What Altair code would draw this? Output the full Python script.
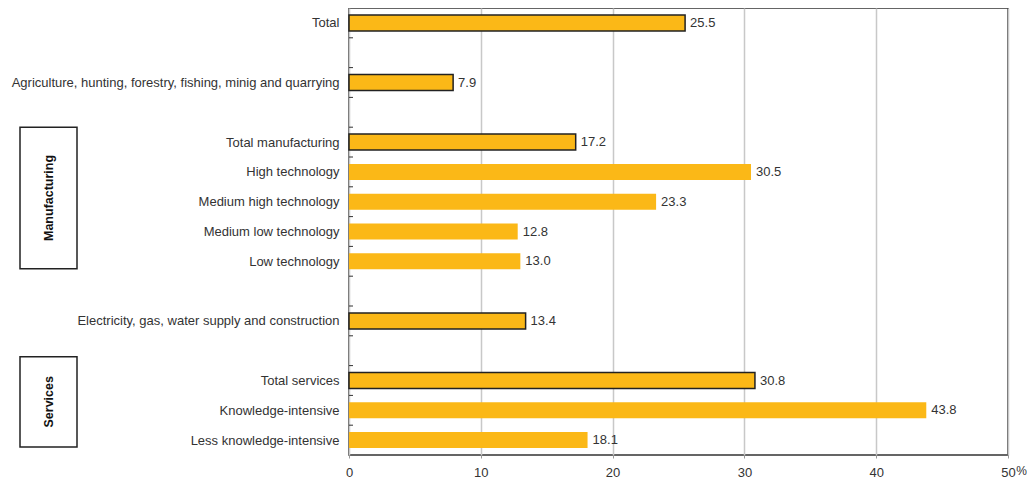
import json
import altair as alt
import pandas as pd

categories = [
    "Total",
    "",
    "Agriculture, hunting, forestry, fishing, minig and quarrying",
    "",
    "Total manufacturing",
    "High technology",
    "Medium high technology",
    "Medium low technology",
    "Low technology",
    "",
    "Electricity, gas, water supply and construction",
    "",
    "Total services",
    "Knowledge-intensive",
    "Less knowledge-intensive",
]
values = [25.5, None, 7.9, None, 17.2, 30.5, 23.3, 12.8, 13.0, None, 13.4, None, 30.8, 43.8, 18.1]
is_total = [True, False, True, False, True, False, False, False, False, False, True, False, True, False, False]

groups = ["Manufacturing", "Services"]
group_start = [3.5, 11.2]
group_end = [8.25, 14.23]

x_ticks = [0, 10, 20, 30, 40, 50]

FONT = "Liberation Sans"
TEXT = "#333333"
BAR = "#FBB817"

n = len(categories)
df = pd.DataFrame({
    "idx": list(range(n)),
    "cat": categories,
    "value": values,
    "total": is_total,
})
df = df[df["value"].notna()]

bounds = pd.DataFrame({"b": [i + 0.5 for i in range(n - 1)]})
gdf = pd.DataFrame({"group": groups, "start": group_start, "end": group_end})

yscale = alt.Scale(domain=[-0.5, n - 0.5], reverse=True, nice=False, zero=False, padding=0)
xscale = alt.Scale(domain=[0, 50], nice=False, padding=0)

label_expr = json.dumps(categories) + "[datum.value]"

yaxis = alt.Axis(values=list(range(n)), labelExpr=label_expr, title=None,
                 ticks=False, domain=False, grid=False, labelPadding=10, labelLimit=500,
                 labelFont=FONT, labelFontSize=13, labelColor=TEXT)
xaxis = alt.Axis(values=x_ticks, title="%", grid=True, gridColor="#c8c8c8",
                 gridWidth=1.5, domain=False, tickSize=3, tickColor="#999999",
                 labelPadding=8, labelFlush=False, labelFont=FONT, labelFontSize=13,
                 labelColor=TEXT, titleFont=FONT, titleFontSize=12,
                 titleFontWeight="normal", titleColor=TEXT, titleX=672, titleY=15,
                 titleAlign="center", titleBaseline="middle", titleAngle=0)


def Y(field):
    return alt.Y(field, scale=yscale, axis=yaxis)


def X(field):
    return alt.X(field, scale=xscale, axis=xaxis)


base = alt.Chart(df)

bars_plain = base.transform_filter("!datum.total").mark_bar(
    color=BAR, size=16, orient="horizontal"
).encode(
    x=X("value:Q"),
    y=Y("idx:Q"),
)

bars_total = base.transform_filter("datum.total").mark_bar(
    color=BAR, size=16, orient="horizontal", stroke="#222222", strokeWidth=1.5
).encode(
    x=X("value:Q"),
    y=Y("idx:Q"),
)

labels = base.mark_text(
    align="left", baseline="middle", dx=5, font=FONT, fontSize=13, color=TEXT
).encode(
    x=X("value:Q"),
    y=Y("idx:Q"),
    text=alt.Text("value:Q", format=".1f"),
)

ticks = alt.Chart(bounds).mark_rule(color="#333333", strokeWidth=1).encode(
    x=alt.value(0),
    x2=alt.value(4),
    y=Y("b:Q"),
)

boxes = alt.Chart(gdf).mark_rect(
    fill="white", stroke="#222222", strokeWidth=1.5
).encode(
    x=alt.value(-329),
    x2=alt.value(-272),
    y=Y("start:Q"),
    y2="end:Q",
)

box_text = alt.Chart(gdf).transform_calculate(
    mid="(datum.start + datum.end) / 2"
).mark_text(
    angle=270, align="center", baseline="middle", font=FONT, fontSize=12.5,
    fontWeight="bold", color="#111111"
).encode(
    x=alt.value(-300),
    y=Y("mid:Q"),
    text="group:N",
)

chart = alt.layer(bars_plain, bars_total, labels, ticks, boxes, box_text).properties(
    width=659,
    height=447,
    autosize=alt.AutoSizeParams(type="none"),
    padding={"left": 341, "top": 0, "right": 19, "bottom": 24},
).configure_view(
    stroke="#333333", strokeWidth=1.5
)

chart.save("out.html", embed_options={"renderer": "svg", "actions": False})
